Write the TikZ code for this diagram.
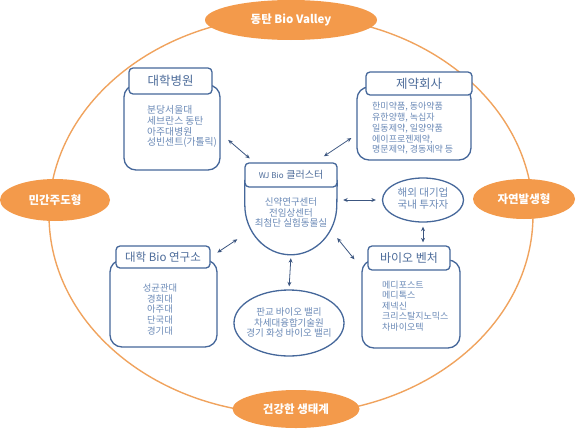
\documentclass[tikz,border=0pt]{standalone}
\usepackage{fontspec}
\setmainfont{Noto Sans CJK KR}
\usepackage{tikz}
\usetikzlibrary{arrows.meta, positioning, shapes.geometric, calc}
\definecolor{RingLine}{HTML}{F0A35E}
\definecolor{BadgeFill}{HTML}{F39A4B}
\definecolor{BoxInk}{HTML}{45679A}
\definecolor{HeadInk}{HTML}{4D6C9A}
\definecolor{ListInk}{HTML}{6A89B6}
\definecolor{LinkInk}{HTML}{3C5680}

\begin{document}
\begin{tikzpicture}[
    x=1pt, y=-1pt,
    ring/.style={draw=RingLine, line width=1.4pt},
    badge/.style={
      ellipse,
      fill=BadgeFill,
      text=white,
      inner sep=0pt,
      font=\fontsize{11.5}{13}\selectfont\bfseries,
    },
    headbox/.style={
      draw=BoxInk,
      fill=white,
      rounded corners=4pt,
      line width=1.3pt,
      inner sep=0pt,
      text=HeadInk,
      font=\fontsize{12.5}{14}\selectfont,
    },
    bodybox/.style={
      draw=BoxInk,
      rounded corners=12pt,
      line width=1.3pt,
      inner sep=0pt,
    },
    pill/.style={
      ellipse,
      draw=BoxInk,
      line width=1.3pt,
      inner sep=0pt,
    },
    list/.style={
      text=ListInk,
      align=left,
      inner sep=0pt,
      font=\fontsize{9.3}{10.7}\selectfont,
    },
    biarrow/.style={
      {Stealth[length=4.5pt,width=4pt]}-{Stealth[length=4.5pt,width=4pt]},
      draw=LinkInk,
      line width=0.8pt,
    },
  ]
    \useasboundingbox (0,0) rectangle (580,431);

    % outer ring and its four badges
    \draw[ring] (291,215) ellipse [x radius=242, y radius=199];
    \node[badge, minimum width=172pt, minimum height=40pt] (north) at (291,20) {동탄 Bio Valley};
    \node[badge, minimum width=110pt, minimum height=42pt] (west) at (55,200) {민간주도형};
    \node[badge, minimum width=102pt, minimum height=40pt] (east) at (524,199) {자연발생형};
    \node[badge, minimum width=127pt, minimum height=38pt] (south) at (296,409) {건강한 생태계};

    % university hospitals
    \node[bodybox, minimum width=96pt, minimum height=85pt] (hospbody) at (172,127.5) {};
    \node[headbox, minimum width=83pt, minimum height=26pt] (hosphead) at (170.5,81) {대학병원};
    \node[list, anchor=west, font=\fontsize{9.8}{10.9}\selectfont] (hosplist) at (147,126.5) {%
      분당서울대\\
      세브란스 동탄\\
      아주대병원\\
      성빈센트(가톨릭)};

    % pharma companies
    \node[bodybox, minimum width=114pt, minimum height=73pt] (pharmabody) at (414,123.5) {};
    \node[headbox, minimum width=106pt, minimum height=23pt] (pharmahead) at (419,83.5) {제약회사};
    \node[list, anchor=west, font=\fontsize{9}{10.7}\selectfont] (pharmalist) at (372,128.5) {%
      한미약품, 동아약품\\
      유한양행, 녹십자\\
      일동제약, 일양약품\\
      에이프로젠제약,\\
      명문제약, 경동제약 등};

    % cluster in the middle
    \node[minimum width=92pt, minimum height=75pt, inner sep=0pt] (clbody) at (291,217.5) {};
    \draw[draw=BoxInk, line width=1.3pt]
      (clbody.north west) -- ++(0,25)
      arc[start angle=180, end angle=0, x radius=46, y radius=50]
      -- (clbody.north east);
    \node[headbox, minimum width=92pt, minimum height=24pt] (clhead) at (291,175)
      {{\fontsize{8}{9}\selectfont WJ Bio} {\fontsize{10}{12}\selectfont 클러스터}};
    \node[list, align=center, font=\fontsize{9.5}{10.5}\selectfont] (cllist) at (291,212.5) {%
      신약연구센터\\
      전임상센터\\
      최첨단 실험동물실};

    % overseas firms
    \node[pill, minimum width=81pt, minimum height=44pt] (haeoe) at (423,200) {};
    \node[list, align=center, font=\fontsize{10.5}{12.5}\selectfont] (haeoetext) at (423,198.5) {%
      해외 대기업\\
      국내 투자자};

    % university labs
    \node[bodybox, minimum width=107pt, minimum height=87pt] (labbody) at (163.5,303.5) {};
    \node[headbox, minimum width=94pt, minimum height=22pt, font=\fontsize{11.5}{13}\selectfont] (labhead) at (163,257) {대학 Bio 연구소};
    \node[list, align=center] (lablist) at (160,309.5) {%
      성균관대\\
      경희대\\
      아주대\\
      단국대\\
      경기대};

    % bio ventures
    \node[bodybox, minimum width=98pt, minimum height=88pt] (venbody) at (411,304) {};
    \node[headbox, minimum width=82pt, minimum height=24pt, font=\fontsize{12}{14}\selectfont] (venhead) at (409,258) {바이오 벤처};
    \node[list, anchor=west, font=\fontsize{9}{10.5}\selectfont] (venlist) at (382,306) {%
      메디포스트\\
      메디톡스\\
      제넥신\\
      크리스탈지노믹스\\
      차바이오텍};

    % valleys
    \node[pill, minimum width=110pt, minimum height=66pt] (pangyo) at (289,323) {};
    \node[list, align=center, font=\fontsize{9.5}{10.7}\selectfont] (pangyotext) at (289,322.5) {%
      판교 바이오 밸리\\
      차세대융합기술원\\
      경기 화성 바이오 밸리};

    % links
    \draw[biarrow, shorten <=10pt, shorten >=6pt] (hospbody.-7) -- (clhead.161);
    \draw[biarrow, shorten <=6pt, shorten >=11pt] (pharmabody.191) -- (clhead.28);
    \draw[biarrow, shorten <=6pt, shorten >=6pt] (haeoe.west) -- (haeoe.west -| clbody.east);
    \draw[biarrow, shorten <=4pt, shorten >=3pt] (haeoe.south) -- (haeoe.south |- venhead.north);
    \draw[biarrow, shorten <=8pt, shorten >=9pt] (labhead.east) -- (clbody.200);
    \draw[biarrow, shorten >=11pt] (clbody.-24) -- (venbody.144);
    \draw[biarrow, shorten <=3pt, shorten >=3pt] (clbody.south) -- (pangyo.north);
  \end{tikzpicture}
\end{document}
